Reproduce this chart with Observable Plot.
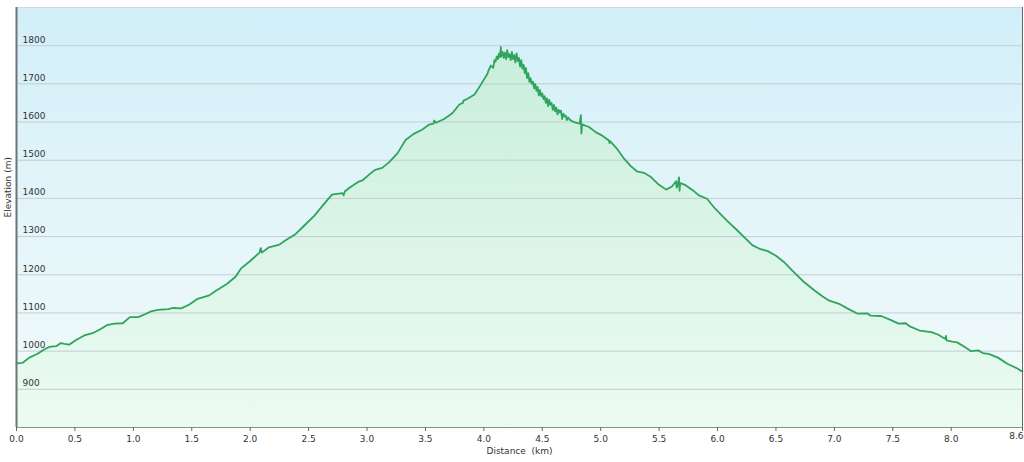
<!DOCTYPE html>
<html>
<head>
<meta charset="utf-8">
<script src="https://cdn.jsdelivr.net/npm/d3@7"></script>
<script src="https://cdn.jsdelivr.net/npm/@observablehq/plot@0.6"></script>
<style>
  html, body { margin: 0; padding: 0; background: #ffffff; }
  #chart svg { display: block; }
</style>
</head>
<body>
<div id="chart"></div>
<script>
const distanceKm = [
  0.00, 0.05, 0.11, 0.18, 0.24, 0.28, 0.34, 0.38, 0.41, 0.45, 0.51, 0.58, 0.65, 0.71, 0.78, 0.84, 0.91, 0.97,
  1.04, 1.11, 1.15, 1.21, 1.30, 1.34, 1.41, 1.48, 1.55, 1.65, 1.70, 1.80, 1.875, 1.92, 2.00, 2.08, 2.09, 2.10,
  2.16, 2.25, 2.30, 2.39, 2.47, 2.55, 2.62, 2.70, 2.79, 2.80, 2.81, 2.85, 2.93, 2.96, 3.02, 3.07, 3.13, 3.19,
  3.26, 3.33, 3.40, 3.47, 3.53, 3.57, 3.575, 3.59, 3.66, 3.73, 3.79, 3.82, 3.825, 3.86, 3.92, 3.97, 4.03,
  4.04, 4.06, 4.08, 4.09, 4.10, 4.11, 4.12, 4.13, 4.14, 4.145, 4.15, 4.16, 4.17, 4.18, 4.19, 4.20, 4.21, 4.22,
  4.23, 4.24, 4.25, 4.26, 4.27, 4.28, 4.29, 4.30, 4.31, 4.32, 4.33, 4.34, 4.35, 4.36, 4.37, 4.38, 4.39, 4.40,
  4.41, 4.42, 4.43, 4.44, 4.45, 4.46, 4.47, 4.48, 4.49, 4.50, 4.51, 4.52, 4.53, 4.54, 4.55, 4.56, 4.57, 4.58,
  4.59, 4.60, 4.61, 4.62, 4.63, 4.64, 4.65, 4.66, 4.67, 4.68, 4.69, 4.70, 4.71, 4.72, 4.74, 4.77, 4.82, 4.83,
  4.835, 4.84, 4.90, 4.96, 5.01, 5.04, 5.07, 5.075, 5.08, 5.09, 5.14, 5.20, 5.26, 5.31, 5.37, 5.43, 5.49, 5.56,
  5.61, 5.645, 5.65, 5.66, 5.67, 5.675, 5.68, 5.70, 5.73, 5.79, 5.84, 5.91, 5.98, 6.08, 6.17, 6.23, 6.30, 6.36,
  6.43, 6.50, 6.57, 6.64, 6.74, 6.83, 6.90, 6.95, 7.04, 7.11, 7.20, 7.28, 7.31, 7.40, 7.48, 7.55, 7.61, 7.65,
  7.73, 7.83, 7.89, 7.95, 7.955, 7.96, 8.01, 8.05, 8.11, 8.17, 8.23, 8.27, 8.32, 8.40, 8.48, 8.57, 8.60, 8.61
];
const elevationM = [
  968, 969, 983, 993, 1005, 1011, 1013, 1021, 1019, 1017, 1029, 1041, 1047, 1056, 1069, 1072, 1073, 1089,
  1089, 1098, 1104, 1108, 1110, 1113, 1112, 1122, 1137, 1146, 1157, 1176, 1195, 1216, 1236, 1258, 1270, 1258,
  1272, 1279, 1290, 1307, 1331, 1355, 1381, 1410, 1414, 1408, 1418, 1428, 1444, 1447, 1463, 1475, 1480, 1495,
  1518, 1553, 1569, 1580, 1593, 1596, 1604, 1598, 1608, 1623, 1646, 1650, 1656, 1661, 1672, 1696, 1726,
  1735, 1748, 1742, 1762, 1758, 1772, 1765, 1780, 1770, 1797, 1772, 1784, 1768, 1782, 1765, 1788, 1770, 1778,
  1762, 1784, 1765, 1775, 1756, 1780, 1760, 1768, 1745, 1762, 1740, 1750, 1728, 1742, 1715, 1728, 1705, 1715,
  1700, 1706, 1688, 1700, 1682, 1692, 1670, 1684, 1668, 1675, 1660, 1668, 1650, 1662, 1642, 1658, 1645, 1650,
  1632, 1645, 1628, 1638, 1620, 1632, 1625, 1630, 1608, 1622, 1615, 1617, 1605, 1612, 1605, 1600, 1596, 1618,
  1570, 1594, 1587, 1573, 1565, 1558, 1552, 1545, 1550, 1547, 1530, 1504, 1484, 1471, 1467, 1456, 1438, 1423,
  1431, 1445, 1428, 1436, 1455, 1420, 1440, 1438, 1434, 1421, 1408, 1399, 1373, 1342, 1316, 1298, 1277, 1268,
  1262, 1250, 1233, 1211, 1181, 1159, 1143, 1133, 1124, 1112, 1098, 1099, 1093, 1092, 1082, 1072, 1073, 1064,
  1054, 1050, 1043, 1032, 1040, 1028, 1025, 1023, 1012, 1000, 1002, 995, 993, 983, 967, 954, 948, 948
];
const yTicks = [900, 1000, 1100, 1200, 1300, 1400, 1500, 1600, 1700, 1800];
const xTicks = [0, 0.5, 1.0, 1.5, 2.0, 2.5, 3.0, 3.5, 4.0, 4.5, 5.0, 5.5, 6.0, 6.5, 7.0, 7.5, 8.0];
const xEndTick = [8.61];
const xLabel = "Distance  (km)";
const yLabel = "Elevation (m)";

const profile = distanceKm.map((d, i) => ({dist: d, elev: elevationM[i]}));

const plot = Plot.plot({
  width: 1024,
  height: 462,
  marginLeft: 16,
  marginRight: 2,
  marginTop: 7,
  marginBottom: 35,
  style: {fontFamily: "'DejaVu Sans', Verdana, sans-serif", fontSize: "9px", color: "#333", background: "#ffffff"},
  x: {domain: [0, 8.61], axis: null},
  y: {domain: [800, 1900], axis: null},
  marks: [
    Plot.frame({fill: "url(#bgGrad)", stroke: "#cfd8dc"}),
    Plot.areaY(profile, {x: "dist", y1: 800, y2: "elev", fill: "url(#areaGrad)", curve: "linear"}),
    Plot.gridY(yTicks, {stroke: "#c3ced3", strokeOpacity: 1, strokeWidth: 1}),
    Plot.text(yTicks, {y: d => d, frameAnchor: "left", dx: 6, dy: -6, text: d => String(d), textAnchor: "start", fill: "#333"}),
    Plot.lineY(profile, {x: "dist", y: "elev", stroke: "#2ea55a", strokeWidth: 1.8, curve: "linear"}),
    Plot.ruleY([800], {stroke: "#8a8f92", strokeWidth: 1.2}),
    Plot.ruleX([0], {stroke: "#6f7477", strokeWidth: 2}),
    Plot.axisX({ticks: xTicks, tickSize: 4, tickPadding: 4, tickFormat: d => d.toFixed(1), label: null, stroke: "#666", fill: "#333"}),
    Plot.tickX(xEndTick, {x: d => d, y1: 800, y2: 800, stroke: "#666"}),
    Plot.ruleX(xEndTick, {x: d => d, y1: 800, y2: 800, stroke: "#666", insetBottom: -4}),
    Plot.text(xEndTick, {x: d => d, frameAnchor: "bottom", dy: 11, dx: 1, text: d => d.toFixed(1), textAnchor: "end", fill: "#333"}),
    Plot.text([xLabel], {frameAnchor: "bottom", dy: 26, text: d => d, fill: "#333"}),
    Plot.text([yLabel], {frameAnchor: "left", dx: -8, rotate: -90, text: d => d, fill: "#333"})
  ]
});

// gradients
const ns = "http://www.w3.org/2000/svg";
const defs = document.createElementNS(ns, "defs");
function addGrad(id, stops) {
  const g = document.createElementNS(ns, "linearGradient");
  g.setAttribute("id", id);
  g.setAttribute("gradientUnits", "userSpaceOnUse");
  g.setAttribute("x1", "0"); g.setAttribute("x2", "0");
  g.setAttribute("y1", "7"); g.setAttribute("y2", "427");
  for (const [off, col] of stops) {
    const s = document.createElementNS(ns, "stop");
    s.setAttribute("offset", off);
    s.setAttribute("stop-color", col);
    g.appendChild(s);
  }
  defs.appendChild(g);
}
addGrad("bgGrad", [["0", "#d2eff9"], ["0.5", "#e4f5fa"], ["1", "#f3fbf8"]]);
addGrad("areaGrad", [["0", "#c4ecd8"], ["0.5", "#d9f4e6"], ["1", "#ecfbf2"]]);
plot.insertBefore(defs, plot.firstChild);

document.getElementById("chart").appendChild(plot);
</script>
</body>
</html>
